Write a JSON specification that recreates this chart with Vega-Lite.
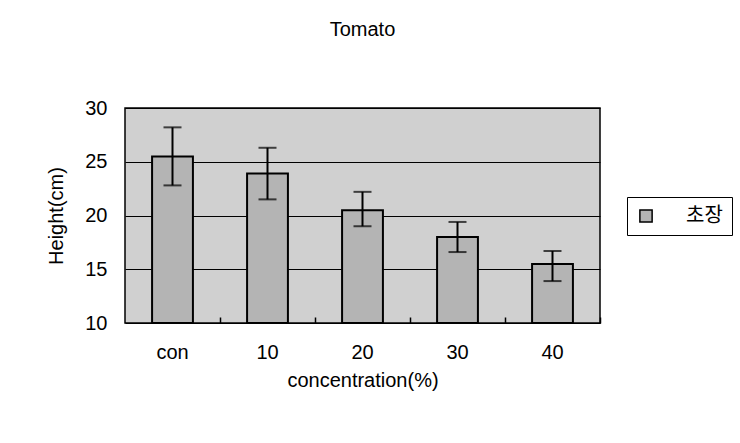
{
  "$schema": "https://vega.github.io/schema/vega-lite/v6.json",
  "autosize": {"type": "none"},
  "width": 475,
  "height": 215,
  "padding": {"left": 125, "top": 108, "right": 140, "bottom": 120},
  "background": "white",
  "title": {"text": "Tomato", "font": "Liberation Sans", "fontSize": 20, "fontWeight": "normal", "color": "black", "offset": 58, "anchor": "middle"},
  "config": {
    "view": {"fill": "#d0d0d0", "stroke": "black", "strokeWidth": 1.5},
    "font": "Liberation Sans"
  },
  "data": {"values": [
    {"conc": "con", "height": 25.5, "lo": 22.8, "hi": 28.2, "series": "초장"},
    {"conc": "10", "height": 23.9, "lo": 21.5, "hi": 26.3, "series": "초장"},
    {"conc": "20", "height": 20.5, "lo": 19.0, "hi": 22.2, "series": "초장"},
    {"conc": "30", "height": 18.0, "lo": 16.6, "hi": 19.4, "series": "초장"},
    {"conc": "40", "height": 15.5, "lo": 13.9, "hi": 16.7, "series": "초장"}
  ]},
  "resolve": {"axis": {"x": "independent"}},
  "layer": [
    {
      "mark": {"type": "bar", "fill": "#b4b4b4", "stroke": "black", "strokeWidth": 2},
      "encoding": {
        "x": {"field": "conc", "type": "nominal", "sort": null,
          "scale": {"paddingInner": 0.57, "paddingOuter": 0.285},
          "axis": {"orient": "bottom", "title": "concentration(%)", "labelAngle": 0, "labelFontSize": 20, "labelColor": "black", "labelPadding": 19, "titleFontSize": 20, "titleFontWeight": "normal", "titleColor": "black", "titlePadding": 8, "ticks": false, "domain": false}},
        "y": {"field": "height", "type": "quantitative",
          "scale": {"domain": [10, 30], "zero": false, "nice": false},
          "axis": {"title": "Height(cm)", "values": [10, 15, 20, 25, 30], "grid": true, "gridColor": "black", "gridWidth": 1, "ticks": false, "domain": false, "labelFontSize": 20, "labelColor": "black", "labelPadding": 18, "titleFontSize": 20, "titleFontWeight": "normal", "titleColor": "black", "titlePadding": 18}},
        "y2": {"datum": 10},
        "fill": {"field": "series", "type": "nominal",
          "scale": {"range": ["#b4b4b4"]},
          "legend": {"title": null, "orient": "none", "legendX": 502, "legendY": 89, "symbolType": "square", "symbolSize": 150, "symbolStrokeColor": "black", "symbolStrokeWidth": 1.5, "labelFont": "Noto Sans CJK KR", "labelFontSize": 20, "labelColor": "black", "labelOffset": 30, "strokeColor": "black", "padding": 9, "fillColor": "white"}}
      }
    },
    {
      "mark": {"type": "rule", "color": "black", "strokeWidth": 2},
      "encoding": {
        "x": {"field": "conc", "type": "nominal", "sort": null,
          "axis": {"orient": "bottom", "title": null, "labels": false, "ticks": true, "tickOffset": 47.5, "tickSize": -6, "tickColor": "black", "tickWidth": 1.5, "domain": false, "grid": false, "zindex": 1}},
        "y": {"field": "lo", "type": "quantitative"},
        "y2": {"field": "hi"}
      }
    },
    {
      "mark": {"type": "tick", "color": "black", "thickness": 2, "size": 18},
      "encoding": {
        "x": {"field": "conc", "type": "nominal", "sort": null, "axis": null},
        "y": {"field": "lo", "type": "quantitative"}
      }
    },
    {
      "mark": {"type": "tick", "color": "black", "thickness": 2, "size": 18},
      "encoding": {
        "x": {"field": "conc", "type": "nominal", "sort": null, "axis": null},
        "y": {"field": "hi", "type": "quantitative"}
      }
    }
  ]
}
